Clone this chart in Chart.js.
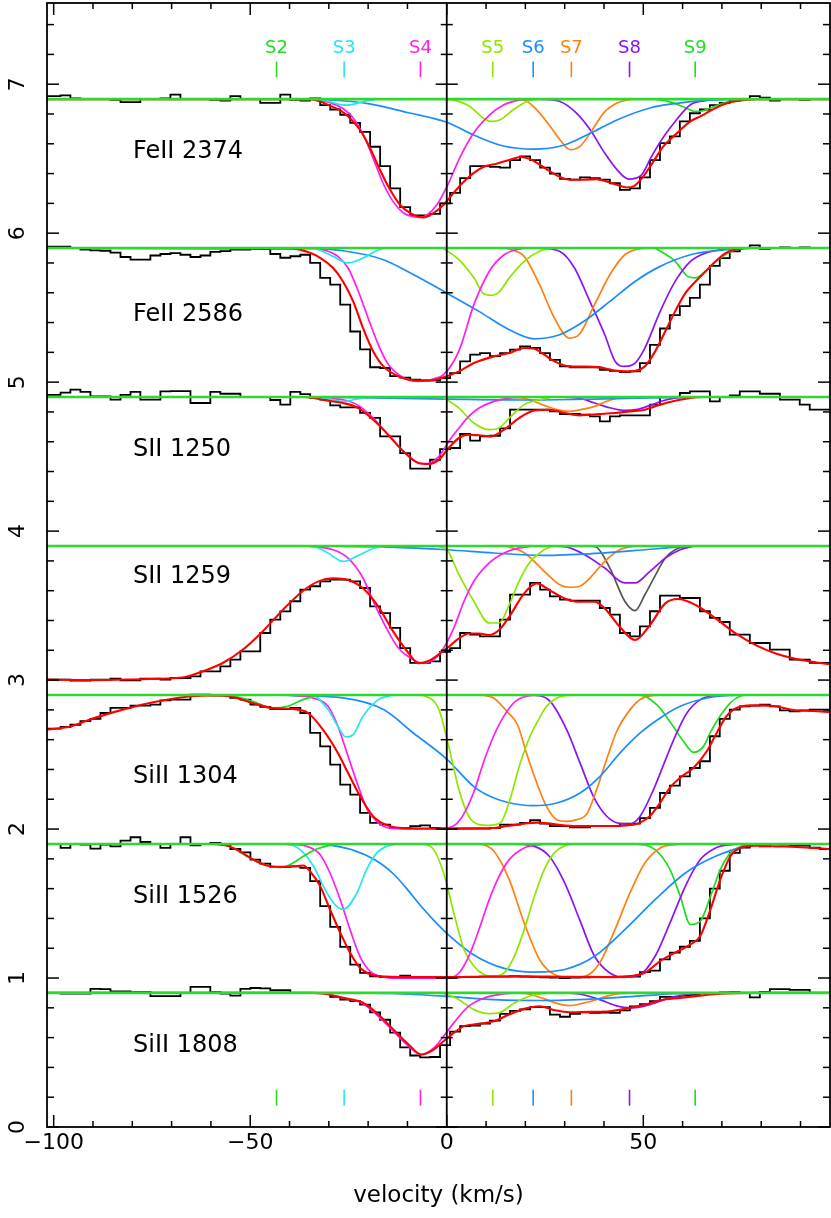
<!DOCTYPE html>
<html>
<head>
<meta charset="utf-8">
<script src="https://cdn.jsdelivr.net/npm/chart.js@4.4.1/dist/chart.umd.min.js"></script>
<style>
  html, body { margin: 0; padding: 0; background: #fff; }
  canvas { display: block; }
</style>
</head>
<body>
<canvas id="velPlot" width="831" height="1218"></canvas>
<script>
// ---- data (velocity in km/s, y in plotted units) ----
const velocityBins = [
  -99.5,-97.0,-94.5,-91.9,-89.4,-86.8,-84.3,-81.7,-79.2,-76.7,
  -74.1,-71.6,-69.0,-66.5,-63.9,-61.4,-58.9,-56.3,-53.8,-51.2,
  -48.7,-46.2,-43.6,-41.1,-38.5,-36.0,-33.5,-30.9,-28.4,-25.8,
  -23.3,-20.8,-18.2,-15.7,-13.1,-10.6,-8.0,-5.5,-3.0,-0.4,
  2.1,4.7,7.2,9.7,12.3,14.8,17.4,19.9,22.5,25.0,
  27.5,30.1,32.6,35.2,37.7,40.2,42.8,45.3,47.9,50.4,
  53.0,55.5,58.0,60.6,63.1,65.7,68.2,70.7,73.3,75.8,
  78.4,80.9,83.5,86.0,88.5,91.1,93.6,96.2
];

const panelNames = ['FeII 2374', 'FeII 2586', 'SII 1250', 'SII 1259', 'SiII 1304', 'SiII 1526', 'SiII 1808'];
const panelContinuum = [6.9, 5.9, 4.9, 3.9, 2.9, 1.9, 0.9];

const compNames = ['S2', 'S3', 'S4', 'S5', 'S6', 'S7', 'S8', 'S9'];
const compVelocity = [-43.3, -26.1, -6.7, 11.7, 22.0, 31.7, 46.5, 63.2];

const xTickLabels = [-100, -50, 0, 50];
const yTickLabels = [0, 1, 2, 3, 4, 5, 6, 7];

// observed spectra (histograms)
const fe2374Flux = [
  6.92,6.925,6.905,6.90,6.90,6.90,6.895,6.88,6.88,6.90,
  6.90,6.905,6.93,6.90,6.90,6.90,6.895,6.89,6.92,6.90,
  6.90,6.875,6.875,6.93,6.895,6.89,6.905,6.86,6.83,6.795,
  6.74,6.68,6.58,6.45,6.30,6.175,6.12,6.12,6.13,6.20,
  6.27,6.37,6.45,6.45,6.445,6.44,6.49,6.515,6.49,6.44,
  6.40,6.365,6.36,6.375,6.37,6.36,6.335,6.29,6.30,6.375,
  6.49,6.605,6.65,6.75,6.805,6.83,6.86,6.875,6.89,6.90,
  6.92,6.91,6.89,6.90,6.90,6.895,6.90,6.90
];
const fe2586Flux = [
  5.91,5.91,5.90,5.89,5.885,5.882,5.87,5.84,5.822,5.822,
  5.85,5.86,5.866,5.855,5.84,5.85,5.875,5.88,5.89,5.89,
  5.895,5.893,5.86,5.835,5.845,5.855,5.80,5.70,5.655,5.52,
  5.34,5.22,5.10,5.095,5.04,5.03,5.016,5.012,5.012,5.027,
  5.06,5.14,5.184,5.195,5.175,5.195,5.218,5.24,5.23,5.195,
  5.15,5.106,5.10,5.10,5.10,5.083,5.075,5.068,5.072,5.128,
  5.25,5.36,5.45,5.51,5.565,5.655,5.78,5.833,5.878,5.90,
  5.918,5.895,5.90,5.905,5.90,5.905,5.90,5.90
];
const s1250Flux = [
  4.915,4.93,4.95,4.935,4.905,4.905,4.882,4.915,4.934,4.882,
  4.882,4.938,4.94,4.94,4.86,4.86,4.934,4.922,4.922,4.90,
  4.90,4.90,4.88,4.849,4.934,4.92,4.895,4.882,4.844,4.83,
  4.83,4.793,4.76,4.636,4.636,4.524,4.419,4.419,4.479,4.55,
  4.558,4.652,4.607,4.636,4.64,4.69,4.815,4.815,4.815,4.815,
  4.804,4.786,4.786,4.781,4.77,4.737,4.77,4.777,4.777,4.777,
  4.849,4.90,4.90,4.927,4.938,4.938,4.871,4.90,4.911,4.938,
  4.938,4.922,4.922,4.882,4.882,4.849,4.815,4.815
];
const s1259Flux = [
  3.003,3.003,2.996,2.996,3.003,3.003,3.01,2.998,2.998,3.01,
  3.01,3.003,3.014,3.014,3.025,3.059,3.059,3.092,3.137,3.193,
  3.193,3.316,3.406,3.461,3.529,3.607,3.63,3.663,3.674,3.674,
  3.663,3.618,3.495,3.45,3.35,3.215,3.115,3.115,3.126,3.19,
  3.215,3.316,3.305,3.294,3.294,3.406,3.573,3.573,3.652,3.607,
  3.562,3.54,3.533,3.533,3.533,3.484,3.439,3.316,3.294,3.361,
  3.462,3.567,3.567,3.551,3.551,3.462,3.417,3.39,3.305,3.305,
  3.249,3.249,3.204,3.204,3.137,3.137,3.115,3.115
];
const si1304Flux = [
  2.674,2.685,2.70,2.725,2.739,2.779,2.813,2.813,2.828,2.828,
  2.835,2.864,2.869,2.869,2.902,2.902,2.898,2.898,2.88,2.869,
  2.835,2.82,2.806,2.806,2.813,2.779,2.645,2.555,2.432,2.298,
  2.231,2.108,2.041,2.03,2.007,2.007,2.019,2.025,2.007,2.003,
  2.003,2.003,2.003,2.003,2.007,2.03,2.03,2.041,2.059,2.036,
  2.019,2.019,2.012,2.012,2.019,2.019,2.019,2.036,2.036,2.074,
  2.142,2.242,2.291,2.354,2.41,2.455,2.623,2.739,2.802,2.824,
  2.828,2.835,2.824,2.797,2.79,2.797,2.802,2.802
];
const si1526Flux = [
  1.90,1.873,1.90,1.896,1.869,1.896,1.884,1.922,1.945,1.913,
  1.90,1.873,1.90,1.945,1.891,1.90,1.907,1.896,1.866,1.844,
  1.795,1.768,1.746,1.746,1.75,1.74,1.65,1.482,1.343,1.209,
  1.09,1.034,1.012,1.007,1.007,1.016,1.007,1.005,1.005,1.003,
  1.005,1.006,1.008,1.01,1.01,1.01,1.012,1.01,1.008,1.005,
  1.003,1.0,1.003,1.005,1.007,1.007,1.007,1.01,1.01,1.04,
  1.05,1.125,1.17,1.21,1.25,1.40,1.60,1.72,1.84,1.875,
  1.896,1.884,1.90,1.896,1.889,1.889,1.875,1.866
];
const si1808Flux = [
  0.90,0.896,0.896,0.896,0.927,0.925,0.911,0.911,0.905,0.905,
  0.878,0.878,0.878,0.90,0.94,0.94,0.905,0.895,0.882,0.927,
  0.933,0.93,0.918,0.918,0.90,0.90,0.90,0.90,0.873,0.855,
  0.845,0.822,0.77,0.72,0.634,0.534,0.48,0.467,0.47,0.55,
  0.64,0.677,0.68,0.694,0.714,0.76,0.78,0.79,0.805,0.805,
  0.755,0.74,0.76,0.77,0.766,0.768,0.766,0.783,0.81,0.824,
  0.845,0.873,0.873,0.882,0.887,0.90,0.90,0.903,0.905,0.90,
  0.87,0.907,0.925,0.925,0.92,0.92,0.90,0.90
];

// total fits [velocity, y]
const fe2374Fit = [[-101.7,6.9],[-34.8,6.9],[-32.2,6.884],[-29.7,6.855],[-27.1,6.824],[-24.6,6.772],[-22.1,6.694],[-19.5,6.571],[-17,6.426],[-14.4,6.291],[-11.9,6.191],[-9.3,6.135],[-5.9,6.106],[-3.4,6.135],[-0.8,6.191],[1.7,6.269],[4.2,6.341],[6.8,6.403],[9.3,6.444],[12.7,6.466],[16.1,6.493],[18.7,6.511],[21.2,6.497],[23.7,6.459],[26.3,6.415],[28.8,6.377],[31.4,6.359],[34.8,6.359],[38.2,6.363],[40.7,6.347],[43.3,6.325],[45.8,6.307],[47.5,6.314],[50,6.381],[52.6,6.482],[55.1,6.582],[58.1,6.66],[62,6.75],[64.5,6.784],[68.4,6.84],[72.2,6.88],[76,6.895],[78.6,6.9],[97.5,6.9]];
const fe2586Fit = [[-101.7,5.9],[-39.2,5.896],[-35.3,5.873],[-32.1,5.833],[-28.9,5.766],[-26.4,5.676],[-23.8,5.542],[-21.3,5.363],[-18.7,5.206],[-16.1,5.106],[-12.3,5.039],[-8.5,5.012],[-4.6,5.01],[-0.8,5.032],[3.1,5.072],[6.9,5.128],[12,5.173],[15.9,5.195],[19.7,5.229],[22.3,5.224],[24.8,5.184],[27.4,5.139],[31.2,5.106],[35.1,5.104],[38.9,5.099],[42.8,5.077],[46.6,5.072],[50.4,5.106],[53,5.206],[55.6,5.341],[58.1,5.475],[60.7,5.598],[63.3,5.676],[65.8,5.743],[68.4,5.811],[70.9,5.866],[73.5,5.889],[76,5.9],[97.5,5.9]];
const s1250Fit = [[-101.7,4.9],[-36,4.9],[-34,4.893],[-30.2,4.875],[-26.4,4.86],[-22.5,4.826],[-18.7,4.748],[-14.9,4.647],[-11,4.535],[-7.2,4.457],[-4.6,4.45],[-2,4.479],[0.5,4.558],[3.1,4.625],[5.6,4.647],[8.2,4.643],[11.4,4.636],[14.6,4.681],[18.4,4.759],[22.3,4.809],[26.1,4.815],[30,4.793],[33.8,4.777],[38.9,4.786],[42.8,4.793],[46.6,4.804],[50.4,4.815],[54.3,4.849],[58.1,4.875],[62,4.893],[65,4.9],[97.5,4.9]];
const s1259Fit = [[-101.7,3.003],[-90.4,3.0],[-77.6,3.006],[-67.3,3.017],[-62.2,3.057],[-57.1,3.113],[-52,3.202],[-46.9,3.325],[-41.7,3.471],[-36.6,3.598],[-32.8,3.661],[-28.9,3.683],[-25.1,3.672],[-21.3,3.616],[-17.4,3.493],[-13.6,3.325],[-9.7,3.18],[-7.2,3.113],[-4.6,3.128],[-2,3.173],[0.5,3.224],[3.1,3.28],[5.6,3.313],[8.2,3.313],[10.8,3.302],[13.3,3.336],[15.9,3.425],[19.7,3.582],[22.9,3.649],[26.1,3.604],[30,3.548],[33.8,3.526],[37.6,3.526],[40.2,3.481],[44,3.358],[47.9,3.269],[51.7,3.37],[55.6,3.515],[58.8,3.544],[63.3,3.504],[68.4,3.414],[73.5,3.313],[78.6,3.235],[83.7,3.179],[88.9,3.141],[94,3.118],[97.5,3.105]];
const si1304Fit = [[-101.7,2.667],[-95.5,2.69],[-90.4,2.739],[-84,2.79],[-77.6,2.835],[-71.2,2.868],[-64.8,2.891],[-59.7,2.897],[-54.5,2.887],[-49.4,2.846],[-44.3,2.812],[-39.2,2.806],[-35.3,2.779],[-31.5,2.667],[-27.7,2.51],[-25.1,2.376],[-22.5,2.242],[-18.7,2.085],[-14.9,2.023],[-11,2.007],[-0.8,2.003],[8,2.005],[12,2.007],[15.3,2.02],[22.9,2.043],[32.2,2.02],[40.7,2.02],[47.5,2.029],[49.2,2.043],[51.7,2.088],[54.3,2.177],[56.8,2.278],[59.4,2.345],[62.8,2.412],[66.2,2.524],[68.7,2.647],[71.2,2.759],[74.6,2.821],[78.9,2.83],[83.1,2.826],[88.2,2.799],[93.3,2.792],[97.5,2.785]];
const si1526Fit = [[-101.7,1.9],[-59.4,1.9],[-56,1.889],[-52.6,1.85],[-49.2,1.795],[-45.8,1.755],[-42.4,1.746],[-39,1.75],[-36.5,1.755],[-34.8,1.717],[-32.2,1.617],[-29.7,1.46],[-27.1,1.304],[-24.6,1.17],[-22.1,1.069],[-19.5,1.025],[-17,1.011],[-10,1.006],[0,1.006],[10,1.01],[20,1.011],[30,1.008],[42.8,1.006],[46.6,1.013],[50.4,1.035],[54.3,1.114],[58.1,1.17],[62,1.226],[64.5,1.282],[67.1,1.461],[69.6,1.662],[72.2,1.819],[74.8,1.875],[78.6,1.889],[83.7,1.884],[88.9,1.88],[97.5,1.866]];
const si1808Fit = [[-101.7,0.9],[-34,0.9],[-31.5,0.896],[-26.4,0.867],[-21.3,0.834],[-17.4,0.755],[-13.6,0.654],[-9.7,0.554],[-6.5,0.487],[-3.3,0.52],[-0.8,0.576],[1.8,0.632],[4.4,0.677],[8.2,0.692],[12,0.71],[15.9,0.755],[19.7,0.793],[23.6,0.811],[27.4,0.784],[31.2,0.77],[36.4,0.773],[41.5,0.777],[46.6,0.8],[50.4,0.822],[54.3,0.851],[59.4,0.867],[64.5,0.882],[70.9,0.896],[76,0.9],[97.5,0.9]];

// single components [velocity, depth below continuum]
const fe2374_S3 = [[-34,0],[-30,0.015],[-27.5,0.035],[-25.4,0.04],[-23,0.03],[-20.5,0.012],[-18,0]];
const fe2374_S4 = [[-33,0],[-29.7,0.025],[-26.3,0.065],[-23.7,0.13],[-21.2,0.24],[-18.7,0.40],[-16.1,0.57],[-13.6,0.69],[-11,0.765],[-8.5,0.79],[-7,0.795],[-5.1,0.78],[-2.5,0.71],[0,0.59],[3.4,0.39],[6.8,0.23],[11,0.105],[14.4,0.04],[17.8,0.01],[21,0]];
const fe2374_S5 = [[0,0],[3,0.015],[5.9,0.05],[9.3,0.128],[11.5,0.15],[13.6,0.139],[17,0.07],[20.4,0.016],[23,0]];
const fe2374_S6 = [[-34,0],[-30,0.005],[-20,0.03],[-10,0.09],[0,0.155],[7.6,0.25],[14.4,0.315],[22,0.336],[29.7,0.31],[36.5,0.23],[43.3,0.14],[51.7,0.06],[58,0.03],[65,0.01],[75,0]];
const fe2374_S7 = [[17.8,0],[20,0.01],[22.9,0.072],[26.3,0.183],[28.8,0.273],[31.4,0.34],[33.9,0.318],[36.5,0.228],[39.9,0.094],[43.3,0.027],[47,0]];
const fe2374_S8 = [[23.7,0],[28.8,0.016],[33,0.094],[36.5,0.206],[39.9,0.351],[43.3,0.474],[46.3,0.537],[49.5,0.51],[52,0.39],[55,0.26],[58.1,0.15],[62,0.038],[65.8,0.011],[71,0]];
const fe2374_S9 = [[53,0],[57,0.02],[60,0.05],[63.3,0.083],[65,0.08],[67,0.06],[70,0.03],[73,0.01],[76,0]];

const fe2586_S3 = [[-36,0],[-34,0.002],[-28.9,0.056],[-25.1,0.1],[-21.3,0.067],[-18,0.02],[-16,0]];
const fe2586_S4 = [[-34,0],[-31.5,0.011],[-27.7,0.056],[-25.1,0.134],[-22.5,0.29],[-20,0.47],[-17.4,0.65],[-14.9,0.78],[-11,0.87],[-7.2,0.895],[-3.3,0.877],[-0.8,0.85],[3.1,0.69],[6.9,0.38],[10.8,0.157],[14.6,0.045],[18.4,0.007],[22,0]];
const fe2586_S5 = [[-1,0],[3.1,0.078],[6.9,0.2],[9.5,0.309],[11.4,0.318],[13.3,0.295],[15.9,0.2],[19.7,0.089],[23.6,0.022],[27,0]];
const fe2586_S6 = [[-38,0],[-26.4,0.018],[-16.1,0.078],[-8.5,0.178],[0,0.302],[8.2,0.425],[15.9,0.548],[22.3,0.609],[28.7,0.582],[35.1,0.488],[41.5,0.358],[47.9,0.224],[54.3,0.123],[62,0.045],[68.4,0.018],[74.8,0.004],[80,0]];
const fe2586_S7 = [[15,0],[19.7,0.056],[23.6,0.246],[27.4,0.47],[31.2,0.604],[33.8,0.577],[37.6,0.38],[41.5,0.179],[45.3,0.045],[49.2,0.004],[52,0]];
const fe2586_S8 = [[23.6,0],[28.7,0.022],[32.5,0.134],[36.4,0.358],[40.2,0.582],[42.8,0.76],[45.3,0.794],[47.9,0.772],[50.4,0.671],[54.3,0.425],[58.1,0.224],[62,0.089],[65.8,0.034],[70.9,0.007],[74,0]];
const fe2586_S9 = [[53,0],[58.1,0.089],[61.3,0.19],[63.3,0.2],[65.8,0.157],[69,0.078],[73.5,0.011],[77,0]];

const s1250_S3 = [[-34,0],[-30,0.012],[-26.4,0.03],[-23,0.015],[-19,0]];
const s1250_S4 = [[-33,0],[-31.5,0.007],[-26.4,0.018],[-22.5,0.056],[-18.7,0.141],[-14.9,0.253],[-11,0.365],[-7.2,0.443],[-5,0.447],[-2,0.398],[0.5,0.298],[3.1,0.208],[5.6,0.13],[8.2,0.074],[12,0.029],[15.9,0.007],[19,0]];
const s1250_S5 = [[-1,0],[3.1,0.074],[6.9,0.174],[10.8,0.219],[13.3,0.208],[15.9,0.141],[19.7,0.051],[23.6,0.018],[27,0]];
const s1250_S6 = [[-32,0],[-15,0.008],[0,0.014],[20,0.02],[40,0.012],[55,0.004],[62,0]];
const s1250_S7 = [[17,0],[20,0.01],[24.8,0.056],[28,0.085],[31.2,0.096],[34,0.085],[37.6,0.063],[40.5,0.03],[43,0.01],[46,0]];
const s1250_S8 = [[30,0],[34,0.01],[37.6,0.04],[41.5,0.072],[45.3,0.09],[48.5,0.083],[51.7,0.056],[55,0.025],[58,0.007],[62,0]];

const s1259_S3 = [[-36,0],[-33,0.012],[-30.2,0.047],[-26.4,0.103],[-22.5,0.063],[-18.5,0.015],[-15,0]];
const s1259_S4 = [[-36,0],[-34,0.004],[-28.9,0.025],[-25.1,0.081],[-21.3,0.215],[-18.7,0.371],[-14.9,0.573],[-12.3,0.685],[-8.5,0.763],[-5.9,0.785],[-3.3,0.763],[-0.8,0.685],[1.8,0.55],[4.4,0.371],[6.9,0.237],[10.8,0.114],[14.6,0.047],[18.4,0.013],[22,0]];
const s1259_S5 = [[-3,0],[0,0.025],[3.1,0.192],[6.9,0.371],[10.8,0.517],[13.3,0.517],[15.9,0.394],[18.4,0.237],[21,0.114],[24.8,0.025],[27,0]];
const s1259_S6 = [[-30,0],[-15,0.007],[0,0.025],[12,0.047],[24.8,0.063],[37.6,0.05],[50.4,0.025],[60,0.004],[65,0]];
const s1259_S7 = [[15,0],[19.7,0.045],[24.8,0.17],[28.7,0.26],[31.2,0.277],[33.8,0.27],[36.4,0.215],[40.2,0.103],[44,0.025],[48,0]];
const s1259_S8 = [[27,0],[30,0.004],[35.1,0.058],[40.2,0.148],[45.3,0.248],[47.9,0.248],[51.7,0.17],[55.6,0.081],[59.4,0.025],[63,0]];
const s1259_blend = [[36,0],[38,0.007],[41.5,0.148],[45.3,0.371],[47.9,0.434],[50.4,0.327],[53,0.2],[55.6,0.081],[58.1,0.025],[61,0]];

const si1304_S2 = [[-58,0],[-54.5,0.005],[-49.4,0.043],[-44.3,0.087],[-40.5,0.076],[-36.6,0.031],[-32.8,0.004],[-30,0]];
const si1304_S3 = [[-37,0],[-34,0.004],[-30.2,0.098],[-27.7,0.21],[-25.7,0.282],[-23.8,0.266],[-21.3,0.143],[-17.4,0.031],[-13.6,0]];
const si1304_S4 = [[-42,0],[-39.2,0.002],[-34,0.02],[-30.2,0.076],[-27.7,0.21],[-25.1,0.412],[-22.5,0.613],[-20,0.78],[-17.4,0.859],[-14.9,0.893],[-10,0.9],[0,0.893],[3.4,0.837],[6.8,0.658],[9.3,0.456],[11.9,0.277],[15.3,0.11],[17.8,0.036],[21.2,0.004],[24,0]];
const si1304_S5 = [[-7,0],[-5.9,0.004],[-2,0.098],[0.5,0.345],[3.1,0.635],[5.6,0.815],[8.2,0.87],[10.8,0.875],[13.6,0.86],[16.1,0.7],[18.7,0.456],[21.2,0.277],[22.9,0.188],[25.4,0.076],[28,0.02],[31,0]];
const si1304_S6 = [[-42,0],[-39.2,0.004],[-26.4,0.02],[-16.1,0.098],[-8.5,0.255],[0,0.43],[6.8,0.613],[11,0.68],[15.3,0.72],[22,0.743],[28,0.725],[33.9,0.658],[39,0.546],[44.1,0.389],[49.2,0.255],[54.3,0.154],[59.4,0.076],[66.2,0.02],[72.9,0.002],[76,0]];
const si1304_S7 = [[9,0],[11.9,0.02],[15.3,0.11],[18,0.2],[20.4,0.4],[22.9,0.59],[25.4,0.75],[28,0.837],[30.5,0.848],[33.1,0.837],[35.6,0.8],[38.2,0.63],[40.7,0.43],[43.3,0.24],[46.6,0.1],[49.2,0.03],[52,0.005],[55,0]];
const si1304_S8 = [[20,0],[22,0.001],[26.3,0.043],[30.5,0.233],[33.9,0.456],[37.3,0.68],[40.7,0.814],[44.1,0.863],[46.6,0.866],[49.2,0.814],[52.6,0.635],[56,0.412],[58.5,0.255],[61.1,0.121],[64.5,0.031],[67.9,0.004],[70,0]];
const si1304_S9 = [[47,0],[49.2,0.001],[53.4,0.065],[57.6,0.21],[60.2,0.311],[62.8,0.385],[65.3,0.345],[67,0.255],[69.5,0.143],[72.1,0.054],[74.6,0.009],[77,0]];

const si1526_S2 = [[-60,0],[-57.7,0.002],[-54.3,0.027],[-50.9,0.083],[-47.5,0.128],[-44.1,0.154],[-42.4,0.157],[-39.9,0.139],[-36.5,0.083],[-33.1,0.034],[-29.7,0.009],[-26,0]];
const si1526_S3 = [[-43,0],[-40.7,0.002],[-37.3,0.038],[-33.9,0.15],[-31.4,0.284],[-28.8,0.396],[-26.3,0.44],[-22.9,0.331],[-20.4,0.172],[-17.8,0.06],[-15.3,0.016],[-12.7,0]];
const si1526_S4 = [[-43,0],[-39,0.004],[-35.6,0.016],[-32.2,0.072],[-29.7,0.195],[-27.1,0.374],[-24.6,0.575],[-22.1,0.754],[-19.5,0.855],[-17,0.888],[-14.4,0.9],[0,0.9],[3.1,0.866],[5.6,0.754],[8.2,0.575],[10.8,0.374],[13.3,0.217],[15.9,0.105],[19.7,0.027],[23.6,0.004],[26,0]];
const si1526_S5 = [[-8,0],[-5.9,0.002],[-3.3,0.038],[-0.8,0.195],[1.8,0.463],[4.4,0.709],[6.9,0.821],[9.5,0.877],[12,0.888],[14.6,0.866],[17.2,0.754],[19.7,0.575],[22.3,0.351],[24.8,0.172],[27.4,0.06],[31.2,0.004],[34,0]];
const si1526_S6 = [[-33,0],[-30.5,0.004],[-27.1,0.02],[-23.7,0.043],[-20.4,0.078],[-17,0.128],[-13.6,0.2],[-10.2,0.3],[-6.8,0.41],[-3.4,0.51],[0,0.6],[6.9,0.745],[14.6,0.835],[22.3,0.86],[30,0.843],[37.6,0.754],[45.3,0.575],[53,0.374],[60.7,0.195],[68.4,0.083],[76,0.016],[82,0]];
const si1526_S7 = [[6,0],[8.2,0.001],[12,0.049],[15.9,0.239],[19.7,0.53],[23.6,0.776],[27.4,0.877],[31.2,0.895],[35.1,0.888],[38.9,0.799],[42.8,0.575],[46.6,0.329],[50.4,0.128],[54.3,0.027],[58.1,0.004],[61,0]];
const si1526_S8 = [[15,0],[17.2,0.001],[22.3,0.016],[26.1,0.083],[30,0.262],[33.8,0.508],[37.6,0.754],[41.5,0.866],[45.3,0.895],[49.2,0.877],[53,0.754],[56.8,0.53],[60.7,0.284],[64.5,0.105],[68.4,0.027],[72.2,0.004],[75,0]];
const si1526_S9 = [[46,0],[47.9,0.001],[53,0.038],[56.8,0.172],[59.4,0.351],[62,0.541],[64.5,0.519],[67.1,0.351],[69.6,0.172],[72.2,0.06],[74.8,0.016],[77.3,0.002],[80,0]];

const si1808_S4 = [[-34,0],[-31.5,0.004],[-26.4,0.034],[-21.3,0.072],[-17.4,0.157],[-13.6,0.257],[-9.7,0.358],[-6.5,0.414],[-3.3,0.369],[-0.8,0.291],[1.8,0.201],[5.6,0.089],[9.5,0.034],[13.3,0.011],[17,0]];
const si1808_S5 = [[-1,0],[3.1,0.045],[6.9,0.112],[10.8,0.139],[13.3,0.134],[17.2,0.067],[21,0.022],[25,0]];
const si1808_S6 = [[-20,0],[-13.6,0.004],[-0.8,0.022],[12,0.045],[24.8,0.051],[37.6,0.04],[50.4,0.018],[59.4,0.004],[65,0]];
const si1808_S7 = [[17,0],[20,0.004],[24.8,0.04],[28,0.07],[31.2,0.085],[34.5,0.07],[37.6,0.049],[41,0.02],[44,0.004],[47,0]];
const si1808_S8 = [[30,0],[34,0.009],[38.9,0.045],[43,0.085],[46.6,0.1],[50,0.09],[53,0.067],[56,0.038],[59.4,0.018],[63,0.004],[66,0]];

// ---- styles / layout ----
const X_MIN = -101.7, X_MAX = 97.5, Y_MAX = 7.545;
const FONT = "'DejaVu Sans', 'Liberation Sans', sans-serif";
const compColor = {
  S2: '#1edc1e', S3: '#22e6f0', S4: '#ff1eee', S5: '#8ce600', S6: '#1a8cff',
  S7: '#ff8010', S8: '#8a14f5', S9: '#1edc1e', blend: '#555555'
};
const CONT_COLOR = '#2ed82e';
const labelOffset = [0.548, 0.452, 0.546, 0.694, 0.354, 0.546, 0.542]; // label height above panel base

const fluxes = [fe2374Flux, fe2586Flux, s1250Flux, s1259Flux, si1304Flux, si1526Flux, si1808Flux];
const fits = [fe2374Fit, fe2586Fit, s1250Fit, s1259Fit, si1304Fit, si1526Fit, si1808Fit];
const components = [
  [0, 'S3', fe2374_S3], [0, 'S4', fe2374_S4], [0, 'S5', fe2374_S5], [0, 'S6', fe2374_S6],
  [0, 'S7', fe2374_S7], [0, 'S8', fe2374_S8], [0, 'S9', fe2374_S9],
  [1, 'S3', fe2586_S3], [1, 'S4', fe2586_S4], [1, 'S5', fe2586_S5], [1, 'S6', fe2586_S6],
  [1, 'S7', fe2586_S7], [1, 'S8', fe2586_S8], [1, 'S9', fe2586_S9],
  [2, 'S3', s1250_S3], [2, 'S4', s1250_S4], [2, 'S5', s1250_S5], [2, 'S6', s1250_S6],
  [2, 'S7', s1250_S7], [2, 'S8', s1250_S8],
  [3, 'S3', s1259_S3], [3, 'S4', s1259_S4], [3, 'S5', s1259_S5], [3, 'S6', s1259_S6],
  [3, 'S7', s1259_S7], [3, 'S8', s1259_S8], [3, 'blend', s1259_blend],
  [4, 'S2', si1304_S2], [4, 'S3', si1304_S3], [4, 'S4', si1304_S4], [4, 'S5', si1304_S5],
  [4, 'S6', si1304_S6], [4, 'S7', si1304_S7], [4, 'S8', si1304_S8], [4, 'S9', si1304_S9],
  [5, 'S2', si1526_S2], [5, 'S3', si1526_S3], [5, 'S4', si1526_S4], [5, 'S5', si1526_S5],
  [5, 'S6', si1526_S6], [5, 'S7', si1526_S7], [5, 'S8', si1526_S8], [5, 'S9', si1526_S9],
  [6, 'S4', si1808_S4], [6, 'S5', si1808_S5], [6, 'S6', si1808_S6], [6, 'S7', si1808_S7],
  [6, 'S8', si1808_S8]
];

// ---- build datasets ----
function histPoints(flux) {
  const pts = velocityBins.map((v, i) => ({ x: v, y: flux[i] }));
  pts.unshift({ x: X_MIN, y: flux[0] });
  pts.push({ x: X_MAX, y: flux[flux.length - 1] });
  return pts;
}

const datasets = [];
panelContinuum.forEach((c) => {
  datasets.push({
    data: [{ x: X_MIN, y: c }, { x: X_MAX, y: c }],
    borderColor: CONT_COLOR, borderWidth: 2.6, order: 0
  });
});
fits.forEach((f) => {
  datasets.push({
    data: f.map(p => ({ x: p[0], y: p[1] })),
    borderColor: '#ff0000', borderWidth: 2.1, cubicInterpolationMode: 'monotone', order: 1
  });
});
components.forEach(([panel, name, pts]) => {
  const c = panelContinuum[panel];
  datasets.push({
    data: pts.map(p => ({ x: p[0], y: c - p[1] })),
    borderColor: compColor[name], borderWidth: 1.7, cubicInterpolationMode: 'monotone', order: 2
  });
});
fluxes.forEach((f) => {
  datasets.push({
    data: histPoints(f),
    borderColor: '#000000', borderWidth: 1.8, stepped: 'middle', order: 3
  });
});

// frame, ticks and text drawn PGPLOT style
const framePlugin = {
  id: 'pgframe',
  afterDatasetsDraw(chart) {
    const { ctx, chartArea: a, scales: { x, y } } = chart;
    const line = (x1, y1, x2, y2) => { ctx.beginPath(); ctx.moveTo(x1, y1); ctx.lineTo(x2, y2); ctx.stroke(); };
    ctx.save();
    ctx.strokeStyle = '#000';
    ctx.lineWidth = 1.8;
    ctx.strokeRect(a.left, a.top, a.right - a.left, a.bottom - a.top);
    const x0 = x.getPixelForValue(0);
    line(x0, a.top, x0, a.bottom);

    ctx.lineWidth = 1.5;
    for (let v = -100; v <= 90; v += 10) {
      const px = x.getPixelForValue(v);
      const len = v % 50 === 0 ? 12 : 6;
      line(px, a.bottom, px, a.bottom - len);
      line(px, a.top, px, a.top + len);
    }
    for (let i = 0; i <= 37; i++) {
      const py = y.getPixelForValue(i * 0.2);
      const major = i % 5 === 0;
      const len = major ? 12 : 7;
      line(a.left, py, a.left + len, py);
      line(a.right, py, a.right - len, py);
      const h = major ? 11 : 6;
      line(x0 - h, py, x0 + h, py);
    }

    // component markers
    compNames.forEach((n, i) => {
      const px = x.getPixelForValue(compVelocity[i]);
      ctx.strokeStyle = compColor[n];
      ctx.lineWidth = 1.6;
      line(px, y.getPixelForValue(7.047), px, y.getPixelForValue(7.152));
      line(px, y.getPixelForValue(0.143), px, y.getPixelForValue(0.25));
      ctx.fillStyle = compColor[n];
      ctx.font = '18px ' + FONT;
      ctx.textAlign = 'center';
      ctx.textBaseline = 'middle';
      ctx.fillText(n, px, y.getPixelForValue(7.242));
    });

    // axis labels
    ctx.fillStyle = '#000';
    ctx.font = '22px ' + FONT;
    ctx.textAlign = 'center';
    ctx.textBaseline = 'middle';
    xTickLabels.forEach(v => {
      const s = v < 0 ? '\u2212' + Math.abs(v) : String(v);
      ctx.fillText(s, x.getPixelForValue(v), 1143);
    });
    yTickLabels.forEach(v => {
      ctx.save();
      ctx.translate(18.5, y.getPixelForValue(v));
      ctx.rotate(-Math.PI / 2);
      ctx.fillText(String(v), 0, 0);
      ctx.restore();
    });
    ctx.font = '23px ' + FONT;
    ctx.fillText('velocity (km/s)', (a.left + a.right) / 2, 1196);

    // panel labels
    ctx.font = '24px ' + FONT;
    ctx.textAlign = 'left';
    panelNames.forEach((name, i) => {
      const base = panelContinuum[i] - 0.9;
      ctx.fillText(name, 133, y.getPixelForValue(base + labelOffset[i]));
    });
    ctx.restore();
  }
};

new Chart(document.getElementById('velPlot').getContext('2d'), {
  type: 'line',
  data: { datasets },
  options: {
    responsive: false,
    animation: false,
    devicePixelRatio: 1,
    layout: { padding: { left: 47, right: 1, top: 3, bottom: 91 } },
    elements: { point: { radius: 0 } },
    plugins: { legend: { display: false }, tooltip: { enabled: false } },
    scales: {
      x: { type: 'linear', min: X_MIN, max: X_MAX, display: false },
      y: { type: 'linear', min: 0, max: Y_MAX, display: false }
    }
  },
  plugins: [framePlugin]
});
</script>
</body>
</html>
